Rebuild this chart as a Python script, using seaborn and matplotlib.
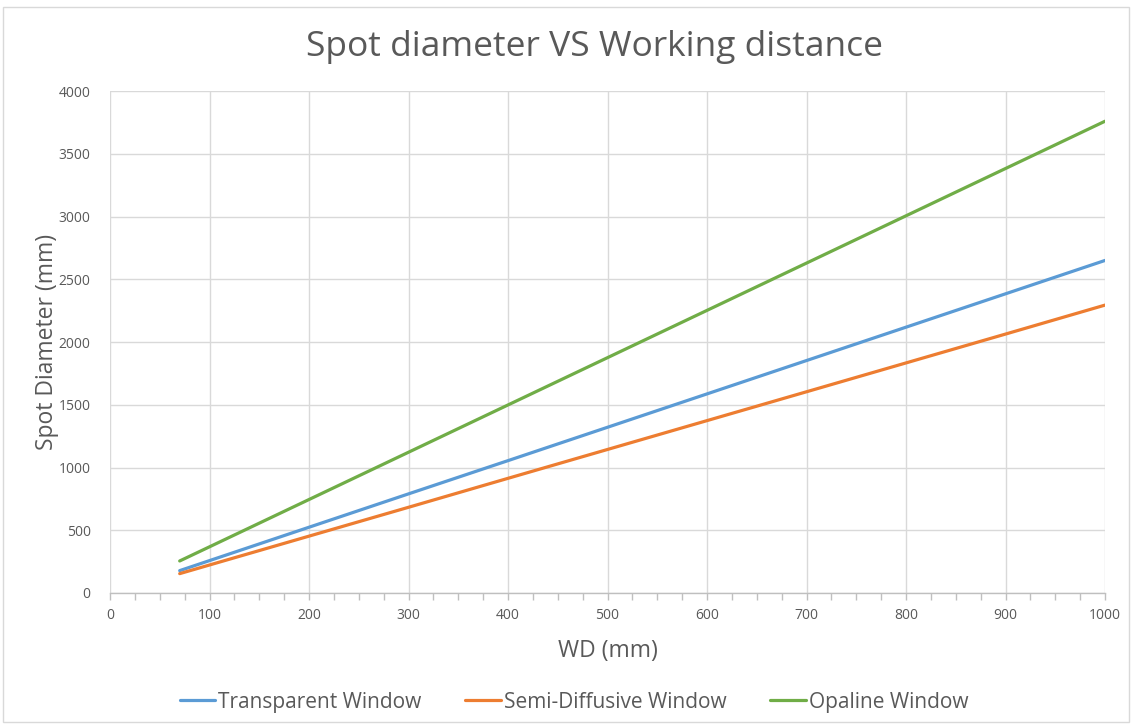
import numpy as np
import pandas as pd
import matplotlib.pyplot as plt
import seaborn as sns
from matplotlib.patches import Rectangle
from matplotlib.ticker import MultipleLocator

# Data
wd = [70, 100, 200, 300, 400, 500, 600, 700, 800, 900, 1000]
transparent = [178, 258, 524, 790, 1055, 1321, 1587, 1853, 2119, 2385, 2651]
semi_diffusive = [154, 223, 453, 683, 914, 1144, 1374, 1604, 1834, 2064, 2295]
opaline = [255, 368, 745, 1122, 1499, 1876, 2253, 2630, 3007, 3384, 3761]

series_names = ['Transparent Window', 'Semi-Diffusive Window', 'Opaline Window']
colors = ['#5B9BD5', '#ED7D31', '#70AD47']

df = pd.DataFrame({
    'WD': wd * 3,
    'Spot': transparent + semi_diffusive + opaline,
    'Series': [series_names[0]] * len(wd) + [series_names[1]] * len(wd) + [series_names[2]] * len(wd),
})

sns.set_theme(style='white')
plt.rcParams['font.family'] = ['Open Sans', 'DejaVu Sans']
text_color = '#595959'

fig = plt.figure(figsize=(11.32, 7.24), dpi=100)
ax = fig.add_axes([0.0972, 0.181, 0.8790, 0.693])

sns.lineplot(data=df, x='WD', y='Spot', hue='Series', palette=colors,
             linewidth=2.3, ax=ax, legend=False)

ax.set_xlim(0, 1000)
ax.set_ylim(0, 4000)
ax.xaxis.set_major_locator(MultipleLocator(100))
ax.xaxis.set_minor_locator(MultipleLocator(25))
ax.yaxis.set_major_locator(MultipleLocator(500))
ax.grid(True, which='major', color='#d9d9d9', linewidth=1)
ax.set_axisbelow(True)

for s in ['top', 'right', 'left']:
    ax.spines[s].set_visible(False)
ax.spines['bottom'].set_color('#bfbfbf')
ax.spines['bottom'].set_linewidth(1)

ax.tick_params(axis='x', which='both', bottom=True, direction='out',
               color='#bfbfbf', length=5, width=1, labelsize=10,
               labelcolor=text_color, pad=6)
ax.tick_params(axis='y', which='both', left=False, labelsize=10,
               labelcolor=text_color, pad=8)

ax.set_xlabel('WD (mm)', fontsize=16.5, color=text_color, labelpad=11)
ax.set_ylabel('Spot Diameter (mm)', fontsize=16.5, color=text_color)
ax.yaxis.set_label_coords(-0.051, 0.5)
fig.text(0.5256, 0.935, 'Spot diameter VS Working distance', ha='center',
         va='center', fontsize=25.5, color=text_color)

handles = [plt.Line2D([], [], color=c, linewidth=2.3) for c in colors]
fig.legend(handles, series_names, loc='center', bbox_to_anchor=(0.507, 0.03),
           ncol=3, frameon=False, fontsize=15, handlelength=1.7,
           handletextpad=0.15, columnspacing=2.1, labelcolor=text_color)

fig.patches.append(Rectangle((0.003, 0.003), 0.994, 0.987, transform=fig.transFigure,
                             fill=False, edgecolor='#d9d9d9', linewidth=1))

fig.savefig('out.png', dpi=100, facecolor='white')
